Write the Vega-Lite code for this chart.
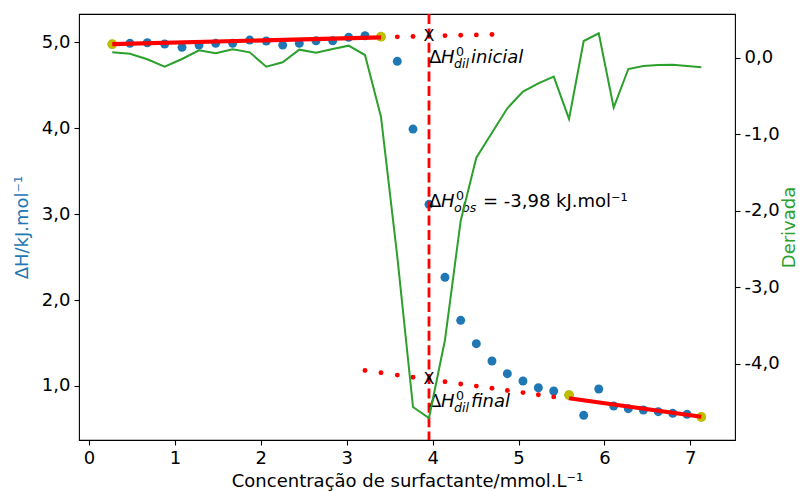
{
  "$schema": "https://vega.github.io/schema/vega-lite/v6.json",
  "width": 656,
  "height": 426,
  "autosize": {"type": "none"},
  "padding": {"left": 79, "top": 14, "right": 64, "bottom": 51},
  "background": "white",
  "config": {
    "font": "DejaVu Sans",
    "view": {"stroke": "black", "strokeWidth": 1.1},
    "axis": {
      "domain": false, "grid": false, "tickColor": "black", "tickSize": 5, "tickWidth": 1.1,
      "labelFontSize": 18, "labelColor": "black", "labelPadding": 4,
      "titleFontSize": 18, "titleFontWeight": "normal", "labelFont": "DejaVu Sans", "titleFont": "DejaVu Sans"
    }
  },
  "datasets": {
    "pts": [
      {"x": 0.271, "y": 4.975}, {"x": 0.477, "y": 4.985}, {"x": 0.679, "y": 4.992}, {"x": 0.881, "y": 4.977},
      {"x": 1.083, "y": 4.938}, {"x": 1.281, "y": 4.965}, {"x": 1.475, "y": 4.985}, {"x": 1.673, "y": 4.985},
      {"x": 1.871, "y": 5.023}, {"x": 2.064, "y": 5.012}, {"x": 2.255, "y": 4.965}, {"x": 2.448, "y": 4.985},
      {"x": 2.643, "y": 5.015}, {"x": 2.837, "y": 5.015}, {"x": 3.023, "y": 5.055}, {"x": 3.213, "y": 5.073},
      {"x": 3.399, "y": 5.062}, {"x": 3.589, "y": 4.776}, {"x": 3.772, "y": 3.988}, {"x": 3.958, "y": 3.113},
      {"x": 4.144, "y": 2.264}, {"x": 4.327, "y": 1.764}, {"x": 4.509, "y": 1.492}, {"x": 4.691, "y": 1.291},
      {"x": 4.87, "y": 1.143}, {"x": 5.052, "y": 1.058}, {"x": 5.231, "y": 0.98}, {"x": 5.41, "y": 0.942},
      {"x": 5.588, "y": 0.895}, {"x": 5.759, "y": 0.659}, {"x": 5.934, "y": 0.965}, {"x": 6.108, "y": 0.767},
      {"x": 6.278, "y": 0.736}, {"x": 6.453, "y": 0.721}, {"x": 6.627, "y": 0.701}, {"x": 6.795, "y": 0.682},
      {"x": 6.962, "y": 0.671}, {"x": 7.128, "y": 0.64}
    ],
    "ends": [
      {"x": 0.271, "y": 4.975}, {"x": 3.399, "y": 5.062}, {"x": 5.588, "y": 0.895}, {"x": 7.128, "y": 0.64}
    ],
    "fit": [
      {"seg": "inicial", "x": 0.271, "y": 4.975}, {"seg": "inicial", "x": 3.399, "y": 5.055},
      {"seg": "final", "x": 5.588, "y": 0.857}, {"seg": "final", "x": 7.128, "y": 0.642}
    ],
    "ext": [
      {"x": 3.589, "y": 5.06}, {"x": 3.772, "y": 5.065}, {"x": 3.958, "y": 5.069}, {"x": 4.144, "y": 5.074},
      {"x": 4.327, "y": 5.079}, {"x": 4.509, "y": 5.083}, {"x": 4.691, "y": 5.088},
      {"x": 3.213, "y": 1.18}, {"x": 3.399, "y": 1.154}, {"x": 3.589, "y": 1.127}, {"x": 3.772, "y": 1.102},
      {"x": 3.958, "y": 1.076}, {"x": 4.144, "y": 1.05}, {"x": 4.327, "y": 1.024}, {"x": 4.509, "y": 0.999},
      {"x": 4.691, "y": 0.973}, {"x": 4.87, "y": 0.948}, {"x": 5.052, "y": 0.923}, {"x": 5.231, "y": 0.898},
      {"x": 5.41, "y": 0.873}
    ],
    "cmc": [{"x": 3.958}],
    "cross": [{"x": 3.958, "y": 5.069}, {"x": 3.958, "y": 1.076}],
    "ann": [
      {"id": "inicial", "x": 3.958, "y": 4.756, "sub": "dil", "tail": "inicial"},
      {"id": "obs", "x": 3.958, "y": 3.085, "sub": "obs", "tail": "= -3,98 kJ.mol⁻¹"},
      {"id": "final", "x": 3.958, "y": 0.759, "sub": "dil", "tail": "final"}
    ],
    "deriv": [
      {"x": 0.271, "d": 0.07}, {"x": 0.477, "d": 0.052}, {"x": 0.679, "d": -0.021}, {"x": 0.881, "d": -0.118},
      {"x": 1.083, "d": -0.017}, {"x": 1.281, "d": 0.097}, {"x": 1.475, "d": 0.058}, {"x": 1.673, "d": 0.11},
      {"x": 1.871, "d": 0.07}, {"x": 2.064, "d": -0.118}, {"x": 2.255, "d": -0.06}, {"x": 2.448, "d": 0.105},
      {"x": 2.643, "d": 0.065}, {"x": 2.837, "d": 0.114}, {"x": 3.023, "d": 0.157}, {"x": 3.213, "d": 0.035},
      {"x": 3.399, "d": -0.771}, {"x": 3.589, "d": -2.6}, {"x": 3.772, "d": -4.566}, {"x": 3.958, "d": -4.71},
      {"x": 4.144, "d": -3.69}, {"x": 4.327, "d": -2.13}, {"x": 4.509, "d": -1.307}, {"x": 4.691, "d": -0.98},
      {"x": 4.87, "d": -0.661}, {"x": 5.052, "d": -0.444}, {"x": 5.231, "d": -0.335}, {"x": 5.41, "d": -0.248},
      {"x": 5.588, "d": -0.8}, {"x": 5.759, "d": 0.218}, {"x": 5.934, "d": 0.319}, {"x": 6.108, "d": -0.654},
      {"x": 6.278, "d": -0.148}, {"x": 6.453, "d": -0.108}, {"x": 6.627, "d": -0.095}, {"x": 6.795, "d": -0.092},
      {"x": 6.962, "d": -0.108}, {"x": 7.128, "d": -0.125}
    ]
  },
  "encoding": {
    "x": {
      "field": "x", "type": "quantitative",
      "scale": {"domain": [-0.116, 7.52], "nice": false, "zero": false},
      "axis": {"values": [0, 1, 2, 3, 4, 5, 6, 7], "format": "d", "title": "Concentração de surfactante/mmol.L⁻¹", "titlePadding": 5}
    }
  },
  "layer": [
    {
      "layer": [
        {
          "data": {"name": "pts"},
          "mark": {"type": "point", "filled": true, "size": 80, "color": "#1f77b4", "opacity": 1},
          "encoding": {
            "y": {
              "field": "y", "type": "quantitative",
              "scale": {"domain": [0.372, 5.326], "nice": false, "zero": false},
              "axis": {
                "orient": "left", "values": [1, 2, 3, 4, 5],
                "labelExpr": "(datum.value < 0 ? '-' : '') + replace(format(abs(datum.value), '.1f'), '.', ',')",
                "title": "ΔH/kJ.mol⁻¹", "titleColor": "#1f77b4", "titlePadding": 10
              }
            }
          }
        },
        {
          "data": {"name": "ends"},
          "mark": {"type": "point", "filled": true, "size": 95, "color": "#bfbf00", "opacity": 1},
          "encoding": {"y": {"field": "y", "type": "quantitative", "scale": {"domain": [0.372, 5.326], "nice": false, "zero": false}}}
        },
        {
          "data": {"name": "fit"},
          "mark": {"type": "line", "color": "#ff0000", "strokeWidth": 4.2},
          "encoding": {
            "y": {"field": "y", "type": "quantitative", "scale": {"domain": [0.372, 5.326], "nice": false, "zero": false}},
            "detail": {"field": "seg"}
          }
        },
        {
          "data": {"name": "ext"},
          "mark": {"type": "point", "filled": true, "size": 24, "color": "#ff0000", "opacity": 1},
          "encoding": {"y": {"field": "y", "type": "quantitative", "scale": {"domain": [0.372, 5.326], "nice": false, "zero": false}}}
        },
        {
          "data": {"name": "cmc"},
          "mark": {"type": "rule", "color": "#ff0000", "strokeWidth": 2.8, "strokeDash": [10, 4.4]},
          "encoding": {}
        },
        {
          "data": {"name": "cross"},
          "mark": {"type": "text", "text": "X", "fontSize": 16, "align": "center", "baseline": "middle", "color": "black"},
          "encoding": {"y": {"field": "y", "type": "quantitative", "scale": {"domain": [0.372, 5.326], "nice": false, "zero": false}}}
        },
        {
          "data": {"name": "ann"},
          "mark": {"type": "text", "text": "Δ", "fontSize": 18, "align": "left", "baseline": "alphabetic", "color": "black"},
          "encoding": {"y": {"field": "y", "type": "quantitative", "scale": {"domain": [0.372, 5.326], "nice": false, "zero": false}}}
        },
        {
          "data": {"name": "ann"},
          "mark": {"type": "text", "text": "H", "fontSize": 18, "fontStyle": "italic", "dx": 12, "align": "left", "baseline": "alphabetic", "color": "black"},
          "encoding": {"y": {"field": "y", "type": "quantitative", "scale": {"domain": [0.372, 5.326], "nice": false, "zero": false}}}
        },
        {
          "data": {"name": "ann"},
          "mark": {"type": "text", "text": "0", "fontSize": 12.6, "dx": 27, "dy": -7, "align": "left", "baseline": "alphabetic", "color": "black"},
          "encoding": {"y": {"field": "y", "type": "quantitative", "scale": {"domain": [0.372, 5.326], "nice": false, "zero": false}}}
        },
        {
          "data": {"name": "ann"},
          "mark": {"type": "text", "fontSize": 12.6, "fontStyle": "italic", "dx": 25, "dy": 5, "align": "left", "baseline": "alphabetic", "color": "black"},
          "encoding": {
            "y": {"field": "y", "type": "quantitative", "scale": {"domain": [0.372, 5.326], "nice": false, "zero": false}},
            "text": {"field": "sub"}
          }
        },
        {
          "data": {"name": "ann"},
          "transform": [{"filter": "datum.id != 'obs'"}],
          "mark": {"type": "text", "fontSize": 18, "fontStyle": "italic", "dx": 42, "align": "left", "baseline": "alphabetic", "color": "black"},
          "encoding": {
            "y": {"field": "y", "type": "quantitative", "scale": {"domain": [0.372, 5.326], "nice": false, "zero": false}},
            "text": {"field": "tail"}
          }
        },
        {
          "data": {"name": "ann"},
          "transform": [{"filter": "datum.id == 'obs'"}],
          "mark": {"type": "text", "fontSize": 18, "dx": 54, "align": "left", "baseline": "alphabetic", "color": "black"},
          "encoding": {
            "y": {"field": "y", "type": "quantitative", "scale": {"domain": [0.372, 5.326], "nice": false, "zero": false}},
            "text": {"field": "tail"}
          }
        }
      ]
    },
    {
      "data": {"name": "deriv"},
      "mark": {"type": "line", "color": "#2ca02c", "strokeWidth": 2},
      "encoding": {
        "y": {
          "field": "d", "type": "quantitative",
          "scale": {"domain": [-4.997, 0.571], "nice": false, "zero": false},
          "axis": {
            "orient": "right", "values": [0, -1, -2, -3, -4],
            "labelExpr": "(datum.value < 0 ? '-' : '') + replace(format(abs(datum.value), '.1f'), '.', ',')",
            "title": "Derivada", "titleColor": "#2ca02c", "titleAngle": 270, "titlePadding": 19
          }
        }
      }
    }
  ],
  "resolve": {"scale": {"y": "independent"}}
}
